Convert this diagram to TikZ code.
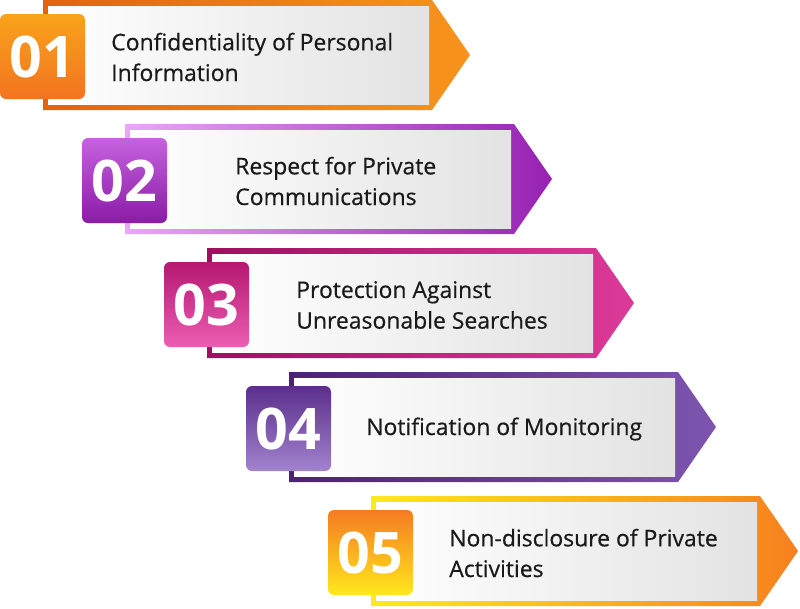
\documentclass[tikz,border=0pt]{standalone}
\usepackage{fontspec}
\setmainfont{Open Sans}
\newfontfamily\lblfont{Open Sans}[FakeBold=0.5]
\usetikzlibrary{positioning}

\definecolor{brdA1}{HTML}{E2640F}
\definecolor{brdB1}{HTML}{F7941D}
\definecolor{boxA1}{HTML}{F9A31B}
\definecolor{boxB1}{HTML}{F37321}
\definecolor{brdA2}{HTML}{E7A9F5}
\definecolor{brdB2}{HTML}{9721B3}
\definecolor{boxA2}{HTML}{C562DE}
\definecolor{boxB2}{HTML}{8A1BA6}
\definecolor{brdA3}{HTML}{9E0F5F}
\definecolor{brdB3}{HTML}{DC3A98}
\definecolor{boxA3}{HTML}{B51870}
\definecolor{boxB3}{HTML}{EC5EB2}
\definecolor{brdA4}{HTML}{4A2277}
\definecolor{brdB4}{HTML}{7D55AF}
\definecolor{boxA4}{HTML}{5B2E8B}
\definecolor{boxB4}{HTML}{A283CE}
\definecolor{brdA5}{HTML}{FFEA1A}
\definecolor{brdB5}{HTML}{F7801E}
\definecolor{boxA5}{HTML}{F57A22}
\definecolor{boxB5}{HTML}{FFE81C}
\definecolor{inkgray}{HTML}{1A1A1A}

\begin{document}
\begin{tikzpicture}[x=0.75pt,y=-0.75pt,
  panel/.style={left color=white,middle color=black!2,right color=black!11},
  numbox/.style={rounded corners=4.5pt},
  numtext/.style={text=white,font=\fontsize{43}{43}\selectfont\bfseries,inner sep=0pt},
  lbltext/.style={anchor=west,align=left,text=inkgray,inner sep=0pt,
    font=\lblfont\fontsize{17.2}{23}\selectfont}]
  \useasboundingbox (0,0) rectangle (800,608);
  % 01
  \shade[left color=brdA1,right color=brdB1] (43,0) -- (432,0) -- (470,55) -- (432,110) -- (43,110) -- cycle;
  \shade[panel] (48,6) rectangle (429,104);
  \shade[numbox,top color=boxA1,bottom color=boxB1] (0,14) rectangle (85,99);
  \node[numtext] (n01) at (42.5,56.5) {01};
  \node[lbltext] (t01) at (111,57) {Confidentiality of Personal\\Information};
  % 02
  \shade[left color=brdA2,right color=brdB2] (125,124) -- (514,124) -- (552,179) -- (514,234) -- (125,234) -- cycle;
  \shade[panel] (130,130) rectangle (511,228);
  \shade[numbox,top color=boxA2,bottom color=boxB2] (82,138) rectangle (167,223);
  \node[numtext] (n02) at (124.5,180.5) {02};
  \node[lbltext] (t02) at (235,181) {Respect for Private\\Communications};
  % 03
  \shade[left color=brdA3,right color=brdB3] (207,248) -- (596,248) -- (634,303) -- (596,358) -- (207,358) -- cycle;
  \shade[panel] (212,254) rectangle (593,352);
  \shade[numbox,top color=boxA3,bottom color=boxB3] (164,262) rectangle (249,347);
  \node[numtext] (n03) at (206.5,304.5) {03};
  \node[lbltext] (t03) at (296,305) {Protection Against\\Unreasonable Searches};
  % 04
  \shade[left color=brdA4,right color=brdB4] (289,372) -- (678,372) -- (716,427) -- (678,482) -- (289,482) -- cycle;
  \shade[panel] (294,378) rectangle (675,476);
  \shade[numbox,top color=boxA4,bottom color=boxB4] (246,386) rectangle (331,471);
  \node[numtext] (n04) at (288.5,428.5) {04};
  \node[lbltext] (t04) at (366,429) {Notification of Monitoring};
  % 05
  \shade[left color=brdA5,right color=brdB5] (371,496) -- (760,496) -- (798,551) -- (760,606) -- (371,606) -- cycle;
  \shade[panel] (376,502) rectangle (757,600);
  \shade[numbox,top color=boxA5,bottom color=boxB5] (328,510) rectangle (413,595);
  \node[numtext] (n05) at (370.5,552.5) {05};
  \node[lbltext] (t05) at (449,553) {Non-disclosure of Private\\Activities};
\end{tikzpicture}
\end{document}
